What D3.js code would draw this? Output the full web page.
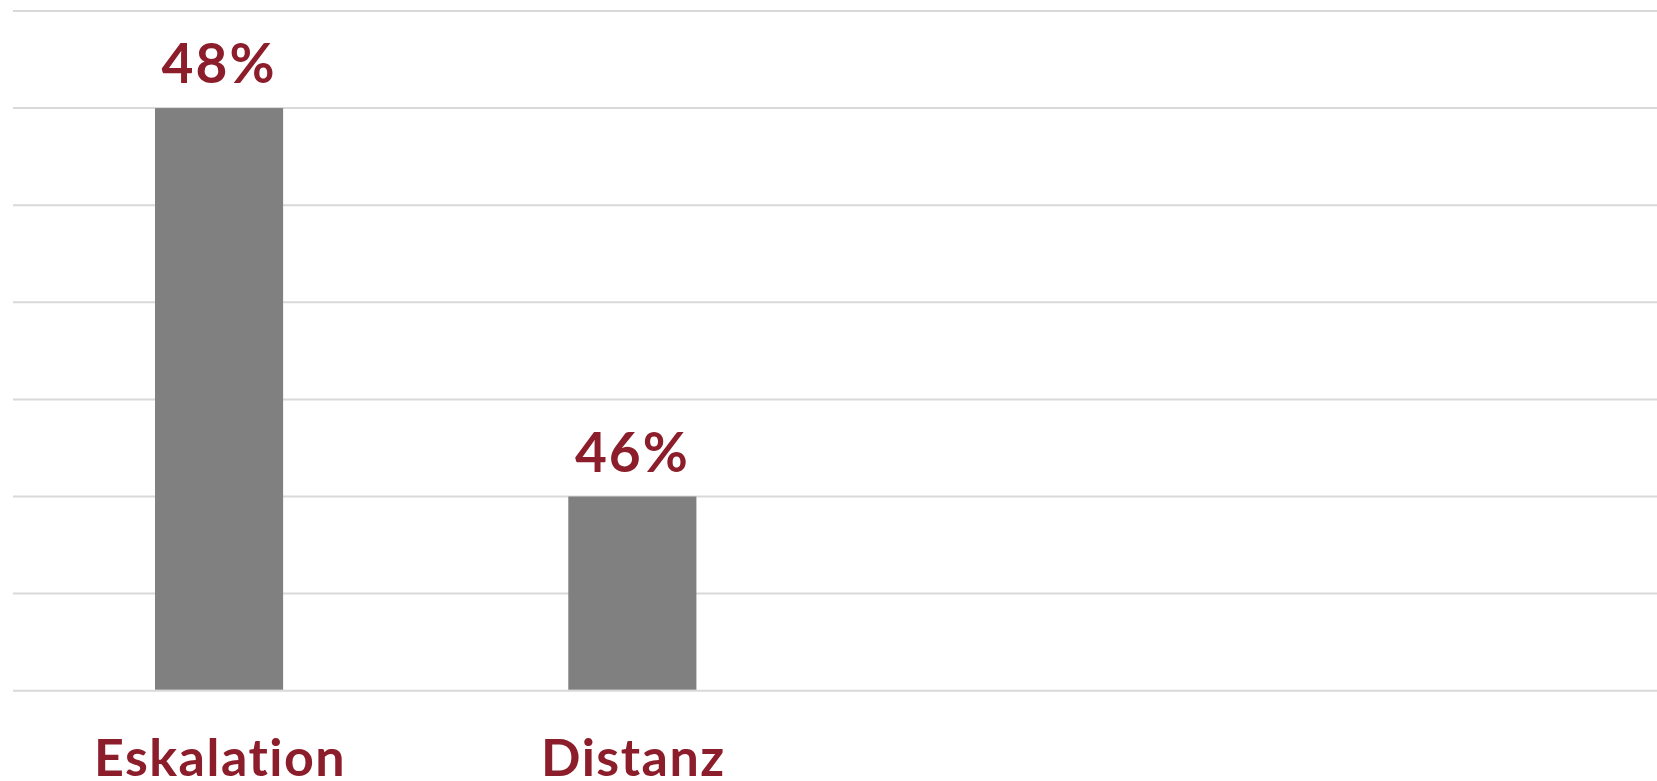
<!DOCTYPE html>
<html>
<head>
<meta charset="utf-8">
<script src="https://cdn.jsdelivr.net/npm/d3@7"></script>
<style>
  html, body { margin: 0; padding: 0; background: #ffffff; }
  svg { display: block; }
</style>
</head>
<body>
<svg id="chart" width="1657" height="781"></svg>
<script>
const categories = ["Eskalation", "Distanz"];
const values = [48, 46];
const valueLabels = ["48%", "46%"];
const yTicks = [45, 45.5, 46, 46.5, 47, 47.5, 48, 48.5];

(function () {
const svg = d3.select("#chart");
const W = 1657, H = 781;
const gridLeft = 13, gridRight = W;
const mTop = 11, mBottom = 690.7;
const red = "#8c1d2b";

const x = d3.scaleBand()
  .domain(categories)
  .range([12.4, 839])
  .paddingInner(0.69)
  .paddingOuter(0.345);

const y = d3.scaleLinear().domain([45, 48.5]).range([mBottom, mTop]);

// gridlines
svg.append("g")
  .selectAll("line")
  .data(yTicks)
  .join("line")
  .attr("x1", gridLeft).attr("x2", gridRight)
  .attr("y1", d => y(d)).attr("y2", d => y(d))
  .attr("stroke", "#d9d9d9")
  .attr("stroke-width", 2);

// bars
svg.append("g")
  .selectAll("rect")
  .data(values)
  .join("rect")
  .attr("x", (d, i) => x(categories[i]))
  .attr("width", x.bandwidth())
  .attr("y", d => y(d))
  .attr("height", d => y(45) - y(d) - 1)
  .attr("fill", "#808080");

// value labels
svg.append("g")
  .selectAll("text")
  .data(values)
  .join("text")
  .attr("x", (d, i) => x(categories[i]) + x.bandwidth() / 2)
  .attr("y", d => y(d) - 25)
  .attr("text-anchor", "middle")
  .attr("fill", red)
  .attr("font-family", "Lato, 'Open Sans', sans-serif")
  .attr("font-weight", 700)
  .attr("font-size", 55)
  .attr("letter-spacing", 2)
  .text((d, i) => valueLabels[i]);

// category labels
svg.append("g")
  .selectAll("text")
  .data(categories)
  .join("text")
  .attr("x", d => x(d) + x.bandwidth() / 2 + 1)
  .attr("y", 776)
  .attr("text-anchor", "middle")
  .attr("fill", red)
  .attr("font-family", "Lato, 'Open Sans', sans-serif")
  .attr("font-weight", 700)
  .attr("font-size", 52)
  .attr("letter-spacing", 1.5)
  .text(d => d);
})();
</script>
</body>
</html>
